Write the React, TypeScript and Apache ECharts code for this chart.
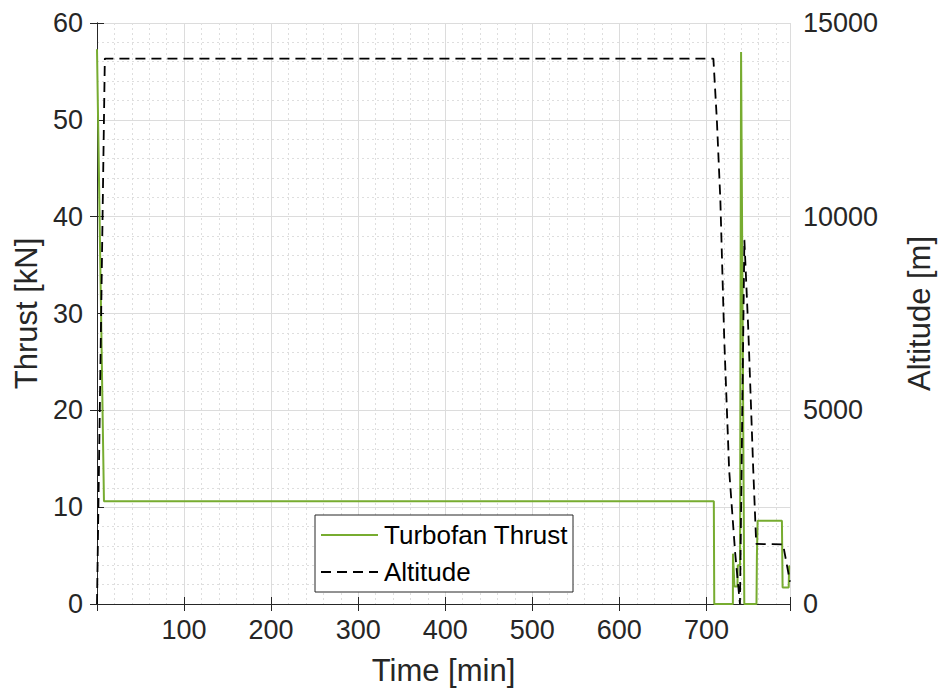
import React, { useEffect, useRef } from "react";
import * as echarts from "echarts";

// Thrust series (time in min, thrust in kN)
const thrustTime = [0, 8, 708.5, 709, 730.4, 730.5, 732.2, 735.6, 736, 738.6, 739.8, 743.5, 757.5, 758, 758.8, 786.7, 787.5, 794.5, 795, 796];
const thrustKN = [57.3, 10.6, 10.6, 0, 0, 5.2, 1.8, 1.8, 4, 4, 57, 0, 0, 5, 8.6, 8.6, 1.7, 1.7, 3.9, 3.9];

// Altitude series (time in min, altitude in m)
const altTime = [0, 9, 708, 712, 716, 720.5, 726.1, 733, 738.5, 743.6, 748.1, 753.8, 757.2, 788, 796];
const altitudeM = [0, 14080, 14080, 12490, 10430, 6820, 3460, 1320, 0, 9400, 7075, 3460, 1550, 1540, 575];

// Axis ticks
const xTickLabels = ["100", "200", "300", "400", "500", "600", "700"];
const xMax = 796;

const FONT = "'Liberation Sans', Arial, Helvetica, sans-serif";
const AX = "#262626";

export default function App() {
  const ref = useRef<HTMLDivElement>(null);
  useEffect(() => {
    document.body.style.margin = "0";
    const chart = echarts.init(ref.current!, null, { renderer: "svg" });
    const thrustData = thrustTime.map((t, i) => [t, thrustKN[i]]);
    const altData = altTime.map((t, i) => [t, altitudeM[i]]);
    const tickStyle = { show: true, inside: true, length: 7, lineStyle: { color: AX, width: 1 } };
    chart.setOption({
      animation: false,
      backgroundColor: "#ffffff",
      textStyle: { fontFamily: FONT },
      grid: { left: 97, top: 23, width: 700, height: 581, containLabel: false },
      legend: {
        data: ["Turbofan Thrust", "Altitude"],
        orient: "vertical",
        left: 315,
        top: 515,
        itemWidth: 57,
        itemHeight: 20,
        itemGap: 11,
        padding: [7, 5, 7, 5],
        backgroundColor: "#ffffff",
        borderColor: AX,
        borderWidth: 1,
        borderRadius: 0,
        selectedMode: false,
        itemStyle: { opacity: 0 },
        textStyle: { fontSize: 26, color: "#000", fontFamily: FONT, padding: [0, 0, 0, 1] },
      },
      xAxis: [
        {
          type: "value",
          min: 0,
          max: xMax,
          interval: 100,
          name: "Time [min]",
          nameLocation: "middle",
          nameGap: 51,
          nameTextStyle: { fontSize: 31, color: AX, fontFamily: FONT },
          axisLine: { show: true, lineStyle: { color: AX, width: 1 } },
          axisTick: tickStyle,
          axisLabel: {
            fontSize: 27,
            color: AX,
            margin: 12,
            fontFamily: FONT,
            formatter: (v: number) => {
              const s = String(v);
              return xTickLabels.includes(s) ? s : "";
            },
          },
          splitLine: { show: true, lineStyle: { color: "#dcdcdc", width: 1 } },
          minorTick: { show: false, splitNumber: 5 },
          minorSplitLine: { show: true, lineStyle: { color: "#dedede", width: 1, type: [2, 3] } },
        },
        {
          type: "value",
          position: "top",
          min: 0,
          max: xMax,
          interval: 100,
          axisLine: { show: true, lineStyle: { color: AX, width: 1 } },
          axisTick: tickStyle,
          axisLabel: { show: false },
          splitLine: { show: false },
        },
      ],
      yAxis: [
        {
          type: "value",
          min: 0,
          max: 60,
          interval: 10,
          name: "Thrust [kN]",
          nameLocation: "middle",
          nameGap: 52,
          nameTextStyle: { fontSize: 31, color: AX, fontFamily: FONT },
          axisLine: { show: true, lineStyle: { color: AX, width: 1 } },
          axisTick: tickStyle,
          axisLabel: { fontSize: 27, color: AX, margin: 14, fontFamily: FONT },
          splitLine: { show: true, lineStyle: { color: "#dcdcdc", width: 1 } },
          minorTick: { show: false, splitNumber: 5 },
          minorSplitLine: { show: true, lineStyle: { color: "#dedede", width: 1, type: [2, 3] } },
        },
        {
          type: "value",
          position: "right",
          min: 0,
          max: 15000,
          interval: 5000,
          name: "Altitude [m]",
          nameLocation: "middle",
          nameGap: 114,
          nameTextStyle: { fontSize: 31, color: AX, fontFamily: FONT },
          axisLine: { show: true, lineStyle: { color: AX, width: 1 } },
          axisTick: tickStyle,
          axisLabel: { fontSize: 27, color: AX, margin: 13, fontFamily: FONT, formatter: (v: number) => String(v) },
          splitLine: { show: false },
        },
      ],
      series: [
        {
          name: "Turbofan Thrust",
          type: "line",
          xAxisIndex: 0,
          yAxisIndex: 0,
          data: thrustData,
          symbol: "none",
          showSymbol: false,
          lineStyle: { color: "#77AC30", width: 2 },
          itemStyle: { color: "#77AC30" },
          z: 3,
        },
        {
          name: "Altitude",
          type: "line",
          xAxisIndex: 0,
          yAxisIndex: 1,
          data: altData,
          symbol: "none",
          showSymbol: false,
          lineStyle: { color: "#000000", width: 1.8, type: [10, 6] },
          itemStyle: { color: "#000000" },
          z: 4,
        },
      ],
    });
    return () => chart.dispose();
  }, []);
  return <div ref={ref} style={{ position: "fixed", left: 0, top: 0, width: 943, height: 698 }} />;
}
